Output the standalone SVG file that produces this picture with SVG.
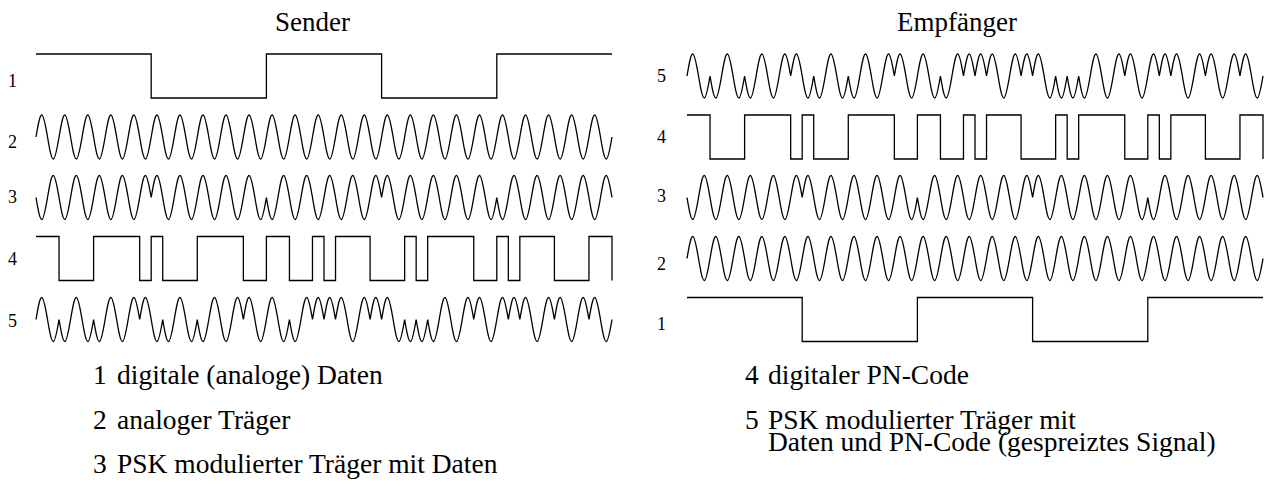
<svg xmlns="http://www.w3.org/2000/svg" width="1265" height="495" viewBox="0 0 1265 495">
<style>
.sig{fill:none;stroke:#000;stroke-width:1.3;stroke-linejoin:miter}
text{font-family:"Liberation Serif","Times New Roman",serif;fill:#000}
.title{font-size:27px}
.lbl{font-size:18px}
.leg{font-size:27.5px}
</style>
<defs>
<!-- data bits 1 0 1 0 1, one bit = 115.2 px, level swing 44 px -->
<path id="w1" d="M0,0 H115.2 V44 H230.4 V0 H345.6 V44 H460.8 V0 H576"/>
<!-- PN code, 50 chips of 11.52 px -->
<path id="w4" d="M0,0 H23.04 V44 H57.6 V0 H103.68 V44 H115.2 V0 H126.72 V44 H161.28 V0 H207.36 V44 H230.4 V0 H253.44 V44 H276.48 V0 H288 V44 H299.52 V0 H334.08 V44 H368.64 V0 H380.16 V44 H391.68 V0 H437.76 V44 H460.8 V0 H472.32 V44 H483.84 V0 H518.4 V44 H552.96 V0 H576 V44"/>
<!-- carrier: 25 periods, each half period one chip wide -->
<path id="w2" d="M0,0c
1.88,-11.27 3.68,-22 5.76,-22 2.08,0 3.88,11.27 5.76,22 1.88,11.27 3.68,22 5.76,22 2.08,0 3.88,-11.27 5.76,-22
1.88,-11.27 3.68,-22 5.76,-22 2.08,0 3.88,11.27 5.76,22 1.88,11.27 3.68,22 5.76,22 2.08,0 3.88,-11.27 5.76,-22
1.88,-11.27 3.68,-22 5.76,-22 2.08,0 3.88,11.27 5.76,22 1.88,11.27 3.68,22 5.76,22 2.08,0 3.88,-11.27 5.76,-22
1.88,-11.27 3.68,-22 5.76,-22 2.08,0 3.88,11.27 5.76,22 1.88,11.27 3.68,22 5.76,22 2.08,0 3.88,-11.27 5.76,-22
1.88,-11.27 3.68,-22 5.76,-22 2.08,0 3.88,11.27 5.76,22 1.88,11.27 3.68,22 5.76,22 2.08,0 3.88,-11.27 5.76,-22
1.88,-11.27 3.68,-22 5.76,-22 2.08,0 3.88,11.27 5.76,22 1.88,11.27 3.68,22 5.76,22 2.08,0 3.88,-11.27 5.76,-22
1.88,-11.27 3.68,-22 5.76,-22 2.08,0 3.88,11.27 5.76,22 1.88,11.27 3.68,22 5.76,22 2.08,0 3.88,-11.27 5.76,-22
1.88,-11.27 3.68,-22 5.76,-22 2.08,0 3.88,11.27 5.76,22 1.88,11.27 3.68,22 5.76,22 2.08,0 3.88,-11.27 5.76,-22
1.88,-11.27 3.68,-22 5.76,-22 2.08,0 3.88,11.27 5.76,22 1.88,11.27 3.68,22 5.76,22 2.08,0 3.88,-11.27 5.76,-22
1.88,-11.27 3.68,-22 5.76,-22 2.08,0 3.88,11.27 5.76,22 1.88,11.27 3.68,22 5.76,22 2.08,0 3.88,-11.27 5.76,-22
1.88,-11.27 3.68,-22 5.76,-22 2.08,0 3.88,11.27 5.76,22 1.88,11.27 3.68,22 5.76,22 2.08,0 3.88,-11.27 5.76,-22
1.88,-11.27 3.68,-22 5.76,-22 2.08,0 3.88,11.27 5.76,22 1.88,11.27 3.68,22 5.76,22 2.08,0 3.88,-11.27 5.76,-22
1.88,-11.27 3.68,-22 5.76,-22 2.08,0 3.88,11.27 5.76,22 1.88,11.27 3.68,22 5.76,22 2.08,0 3.88,-11.27 5.76,-22
1.88,-11.27 3.68,-22 5.76,-22 2.08,0 3.88,11.27 5.76,22 1.88,11.27 3.68,22 5.76,22 2.08,0 3.88,-11.27 5.76,-22
1.88,-11.27 3.68,-22 5.76,-22 2.08,0 3.88,11.27 5.76,22 1.88,11.27 3.68,22 5.76,22 2.08,0 3.88,-11.27 5.76,-22
1.88,-11.27 3.68,-22 5.76,-22 2.08,0 3.88,11.27 5.76,22 1.88,11.27 3.68,22 5.76,22 2.08,0 3.88,-11.27 5.76,-22
1.88,-11.27 3.68,-22 5.76,-22 2.08,0 3.88,11.27 5.76,22 1.88,11.27 3.68,22 5.76,22 2.08,0 3.88,-11.27 5.76,-22
1.88,-11.27 3.68,-22 5.76,-22 2.08,0 3.88,11.27 5.76,22 1.88,11.27 3.68,22 5.76,22 2.08,0 3.88,-11.27 5.76,-22
1.88,-11.27 3.68,-22 5.76,-22 2.08,0 3.88,11.27 5.76,22 1.88,11.27 3.68,22 5.76,22 2.08,0 3.88,-11.27 5.76,-22
1.88,-11.27 3.68,-22 5.76,-22 2.08,0 3.88,11.27 5.76,22 1.88,11.27 3.68,22 5.76,22 2.08,0 3.88,-11.27 5.76,-22
1.88,-11.27 3.68,-22 5.76,-22 2.08,0 3.88,11.27 5.76,22 1.88,11.27 3.68,22 5.76,22 2.08,0 3.88,-11.27 5.76,-22
1.88,-11.27 3.68,-22 5.76,-22 2.08,0 3.88,11.27 5.76,22 1.88,11.27 3.68,22 5.76,22 2.08,0 3.88,-11.27 5.76,-22
1.88,-11.27 3.68,-22 5.76,-22 2.08,0 3.88,11.27 5.76,22 1.88,11.27 3.68,22 5.76,22 2.08,0 3.88,-11.27 5.76,-22
1.88,-11.27 3.68,-22 5.76,-22 2.08,0 3.88,11.27 5.76,22 1.88,11.27 3.68,22 5.76,22 2.08,0 3.88,-11.27 5.76,-22
1.88,-11.27 3.68,-22 5.76,-22 2.08,0 3.88,11.27 5.76,22 1.88,11.27 3.68,22 5.76,22 2.08,0 3.88,-11.27 5.76,-22"/>
<!-- carrier PSK-modulated by the data: phase flips every 10 chips -->
<path id="w3" d="M0,0c
1.88,11.27 3.68,22 5.76,22 2.08,0 3.88,-11.27 5.76,-22 1.88,-11.27 3.68,-22 5.76,-22 2.08,0 3.88,11.27 5.76,22
1.88,11.27 3.68,22 5.76,22 2.08,0 3.88,-11.27 5.76,-22 1.88,-11.27 3.68,-22 5.76,-22 2.08,0 3.88,11.27 5.76,22
1.88,11.27 3.68,22 5.76,22 2.08,0 3.88,-11.27 5.76,-22 1.88,-11.27 3.68,-22 5.76,-22 2.08,0 3.88,11.27 5.76,22
1.88,11.27 3.68,22 5.76,22 2.08,0 3.88,-11.27 5.76,-22 1.88,-11.27 3.68,-22 5.76,-22 2.08,0 3.88,11.27 5.76,22
1.88,11.27 3.68,22 5.76,22 2.08,0 3.88,-11.27 5.76,-22 1.88,-11.27 3.68,-22 5.76,-22 2.08,0 3.88,11.27 5.76,22
1.88,-11.27 3.68,-22 5.76,-22 2.08,0 3.88,11.27 5.76,22 1.88,11.27 3.68,22 5.76,22 2.08,0 3.88,-11.27 5.76,-22
1.88,-11.27 3.68,-22 5.76,-22 2.08,0 3.88,11.27 5.76,22 1.88,11.27 3.68,22 5.76,22 2.08,0 3.88,-11.27 5.76,-22
1.88,-11.27 3.68,-22 5.76,-22 2.08,0 3.88,11.27 5.76,22 1.88,11.27 3.68,22 5.76,22 2.08,0 3.88,-11.27 5.76,-22
1.88,-11.27 3.68,-22 5.76,-22 2.08,0 3.88,11.27 5.76,22 1.88,11.27 3.68,22 5.76,22 2.08,0 3.88,-11.27 5.76,-22
1.88,-11.27 3.68,-22 5.76,-22 2.08,0 3.88,11.27 5.76,22 1.88,11.27 3.68,22 5.76,22 2.08,0 3.88,-11.27 5.76,-22
1.88,11.27 3.68,22 5.76,22 2.08,0 3.88,-11.27 5.76,-22 1.88,-11.27 3.68,-22 5.76,-22 2.08,0 3.88,11.27 5.76,22
1.88,11.27 3.68,22 5.76,22 2.08,0 3.88,-11.27 5.76,-22 1.88,-11.27 3.68,-22 5.76,-22 2.08,0 3.88,11.27 5.76,22
1.88,11.27 3.68,22 5.76,22 2.08,0 3.88,-11.27 5.76,-22 1.88,-11.27 3.68,-22 5.76,-22 2.08,0 3.88,11.27 5.76,22
1.88,11.27 3.68,22 5.76,22 2.08,0 3.88,-11.27 5.76,-22 1.88,-11.27 3.68,-22 5.76,-22 2.08,0 3.88,11.27 5.76,22
1.88,11.27 3.68,22 5.76,22 2.08,0 3.88,-11.27 5.76,-22 1.88,-11.27 3.68,-22 5.76,-22 2.08,0 3.88,11.27 5.76,22
1.88,-11.27 3.68,-22 5.76,-22 2.08,0 3.88,11.27 5.76,22 1.88,11.27 3.68,22 5.76,22 2.08,0 3.88,-11.27 5.76,-22
1.88,-11.27 3.68,-22 5.76,-22 2.08,0 3.88,11.27 5.76,22 1.88,11.27 3.68,22 5.76,22 2.08,0 3.88,-11.27 5.76,-22
1.88,-11.27 3.68,-22 5.76,-22 2.08,0 3.88,11.27 5.76,22 1.88,11.27 3.68,22 5.76,22 2.08,0 3.88,-11.27 5.76,-22
1.88,-11.27 3.68,-22 5.76,-22 2.08,0 3.88,11.27 5.76,22 1.88,11.27 3.68,22 5.76,22 2.08,0 3.88,-11.27 5.76,-22
1.88,-11.27 3.68,-22 5.76,-22 2.08,0 3.88,11.27 5.76,22 1.88,11.27 3.68,22 5.76,22 2.08,0 3.88,-11.27 5.76,-22
1.88,11.27 3.68,22 5.76,22 2.08,0 3.88,-11.27 5.76,-22 1.88,-11.27 3.68,-22 5.76,-22 2.08,0 3.88,11.27 5.76,22
1.88,11.27 3.68,22 5.76,22 2.08,0 3.88,-11.27 5.76,-22 1.88,-11.27 3.68,-22 5.76,-22 2.08,0 3.88,11.27 5.76,22
1.88,11.27 3.68,22 5.76,22 2.08,0 3.88,-11.27 5.76,-22 1.88,-11.27 3.68,-22 5.76,-22 2.08,0 3.88,11.27 5.76,22
1.88,11.27 3.68,22 5.76,22 2.08,0 3.88,-11.27 5.76,-22 1.88,-11.27 3.68,-22 5.76,-22 2.08,0 3.88,11.27 5.76,22
1.88,11.27 3.68,22 5.76,22 2.08,0 3.88,-11.27 5.76,-22 1.88,-11.27 3.68,-22 5.76,-22 2.08,0 3.88,11.27 5.76,22"/>
<!-- carrier PSK-modulated by data XOR PN code (spread signal) -->
<path id="w5" d="M0,0c
1.88,-11.27 3.68,-22 5.76,-22 2.08,0 3.88,11.27 5.76,22
1.88,11.27 3.68,22 5.76,22 2.08,0 3.88,-11.27 5.76,-22
1.88,11.27 3.68,22 5.76,22 2.08,0 3.88,-11.27 5.76,-22
1.88,-11.27 3.68,-22 5.76,-22 2.08,0 3.88,11.27 5.76,22
1.88,11.27 3.68,22 5.76,22 2.08,0 3.88,-11.27 5.76,-22
1.88,11.27 3.68,22 5.76,22 2.08,0 3.88,-11.27 5.76,-22
1.88,-11.27 3.68,-22 5.76,-22 2.08,0 3.88,11.27 5.76,22
1.88,11.27 3.68,22 5.76,22 2.08,0 3.88,-11.27 5.76,-22
1.88,-11.27 3.68,-22 5.76,-22 2.08,0 3.88,11.27 5.76,22
1.88,-11.27 3.68,-22 5.76,-22 2.08,0 3.88,11.27 5.76,22
1.88,11.27 3.68,22 5.76,22 2.08,0 3.88,-11.27 5.76,-22
1.88,11.27 3.68,22 5.76,22 2.08,0 3.88,-11.27 5.76,-22
1.88,-11.27 3.68,-22 5.76,-22 2.08,0 3.88,11.27 5.76,22
1.88,11.27 3.68,22 5.76,22 2.08,0 3.88,-11.27 5.76,-22
1.88,11.27 3.68,22 5.76,22 2.08,0 3.88,-11.27 5.76,-22
1.88,-11.27 3.68,-22 5.76,-22 2.08,0 3.88,11.27 5.76,22
1.88,11.27 3.68,22 5.76,22 2.08,0 3.88,-11.27 5.76,-22
1.88,-11.27 3.68,-22 5.76,-22 2.08,0 3.88,11.27 5.76,22
1.88,-11.27 3.68,-22 5.76,-22 2.08,0 3.88,11.27 5.76,22
1.88,11.27 3.68,22 5.76,22 2.08,0 3.88,-11.27 5.76,-22
1.88,-11.27 3.68,-22 5.76,-22 2.08,0 3.88,11.27 5.76,22
1.88,11.27 3.68,22 5.76,22 2.08,0 3.88,-11.27 5.76,-22
1.88,11.27 3.68,22 5.76,22 2.08,0 3.88,-11.27 5.76,-22
1.88,-11.27 3.68,-22 5.76,-22 2.08,0 3.88,11.27 5.76,22
1.88,-11.27 3.68,-22 5.76,-22 2.08,0 3.88,11.27 5.76,22
1.88,-11.27 3.68,-22 5.76,-22 2.08,0 3.88,11.27 5.76,22
1.88,-11.27 3.68,-22 5.76,-22 2.08,0 3.88,11.27 5.76,22
1.88,11.27 3.68,22 5.76,22 2.08,0 3.88,-11.27 5.76,-22
1.88,-11.27 3.68,-22 5.76,-22 2.08,0 3.88,11.27 5.76,22
1.88,-11.27 3.68,-22 5.76,-22 2.08,0 3.88,11.27 5.76,22
1.88,-11.27 3.68,-22 5.76,-22 2.08,0 3.88,11.27 5.76,22
1.88,11.27 3.68,22 5.76,22 2.08,0 3.88,-11.27 5.76,-22
1.88,11.27 3.68,22 5.76,22 2.08,0 3.88,-11.27 5.76,-22
1.88,11.27 3.68,22 5.76,22 2.08,0 3.88,-11.27 5.76,-22
1.88,11.27 3.68,22 5.76,22 2.08,0 3.88,-11.27 5.76,-22
1.88,-11.27 3.68,-22 5.76,-22 2.08,0 3.88,11.27 5.76,22
1.88,11.27 3.68,22 5.76,22 2.08,0 3.88,-11.27 5.76,-22
1.88,-11.27 3.68,-22 5.76,-22 2.08,0 3.88,11.27 5.76,22
1.88,-11.27 3.68,-22 5.76,-22 2.08,0 3.88,11.27 5.76,22
1.88,11.27 3.68,22 5.76,22 2.08,0 3.88,-11.27 5.76,-22
1.88,-11.27 3.68,-22 5.76,-22 2.08,0 3.88,11.27 5.76,22
1.88,-11.27 3.68,-22 5.76,-22 2.08,0 3.88,11.27 5.76,22
1.88,-11.27 3.68,-22 5.76,-22 2.08,0 3.88,11.27 5.76,22
1.88,11.27 3.68,22 5.76,22 2.08,0 3.88,-11.27 5.76,-22
1.88,-11.27 3.68,-22 5.76,-22 2.08,0 3.88,11.27 5.76,22
1.88,-11.27 3.68,-22 5.76,-22 2.08,0 3.88,11.27 5.76,22
1.88,11.27 3.68,22 5.76,22 2.08,0 3.88,-11.27 5.76,-22
1.88,-11.27 3.68,-22 5.76,-22 2.08,0 3.88,11.27 5.76,22
1.88,-11.27 3.68,-22 5.76,-22 2.08,0 3.88,11.27 5.76,22
1.88,11.27 3.68,22 5.76,22 2.08,0 3.88,-11.27 5.76,-22"/>
</defs>

<!-- transmitter side -->
<g id="sender">
  <text class="title" x="275" y="31">Sender</text>
  <g id="s-row1"><text class="lbl" x="8" y="87">1</text><use class="sig" href="#w1" x="36" y="54"/></g>
  <g id="s-row2"><text class="lbl" x="8" y="148">2</text><use class="sig" href="#w2" x="36" y="137"/></g>
  <g id="s-row3"><text class="lbl" x="8" y="203">3</text><use class="sig" href="#w3" x="36" y="197.5"/></g>
  <g id="s-row4"><text class="lbl" x="8" y="265">4</text><use class="sig" href="#w4" x="36" y="236.5"/></g>
  <g id="s-row5"><text class="lbl" x="8" y="327">5</text><use class="sig" href="#w5" x="36" y="319.5"/></g>
</g>

<!-- receiver side -->
<g id="empfaenger">
  <text class="title" x="897" y="31">Empfänger</text>
  <g id="e-row5"><text class="lbl" x="657" y="82">5</text><use class="sig" href="#w5" x="687" y="76"/></g>
  <g id="e-row4"><text class="lbl" x="657" y="143">4</text><use class="sig" href="#w4" x="687" y="115"/></g>
  <g id="e-row3"><text class="lbl" x="657" y="202">3</text><use class="sig" href="#w3" x="687" y="197.5"/></g>
  <g id="e-row2"><text class="lbl" x="657" y="270">2</text><use class="sig" href="#w2" x="687" y="258.5"/></g>
  <g id="e-row1"><text class="lbl" x="657" y="330">1</text><use class="sig" href="#w1" x="687" y="297.5"/></g>
</g>

<!-- key -->
<g id="legend">
  <g id="key1"><text class="leg" x="93" y="383.5">1</text><text class="leg" x="117" y="383.5">digitale (analoge) Daten</text></g>
  <g id="key2"><text class="leg" x="93" y="428.5">2</text><text class="leg" x="117" y="428.5">analoger Träger</text></g>
  <g id="key3"><text class="leg" x="93" y="472.5">3</text><text class="leg" x="117" y="472.5">PSK modulierter Träger mit Daten</text></g>
  <g id="key4"><text class="leg" x="745" y="383.5">4</text><text class="leg" x="768" y="383.5">digitaler PN-Code</text></g>
  <g id="key5"><text class="leg" x="745" y="428.5">5</text><text class="leg" x="768" y="428.5">PSK modulierter Träger mit</text><text class="leg" x="768" y="450.5">Daten und PN-Code (gespreiztes Signal)</text></g>
</g>
</svg>
